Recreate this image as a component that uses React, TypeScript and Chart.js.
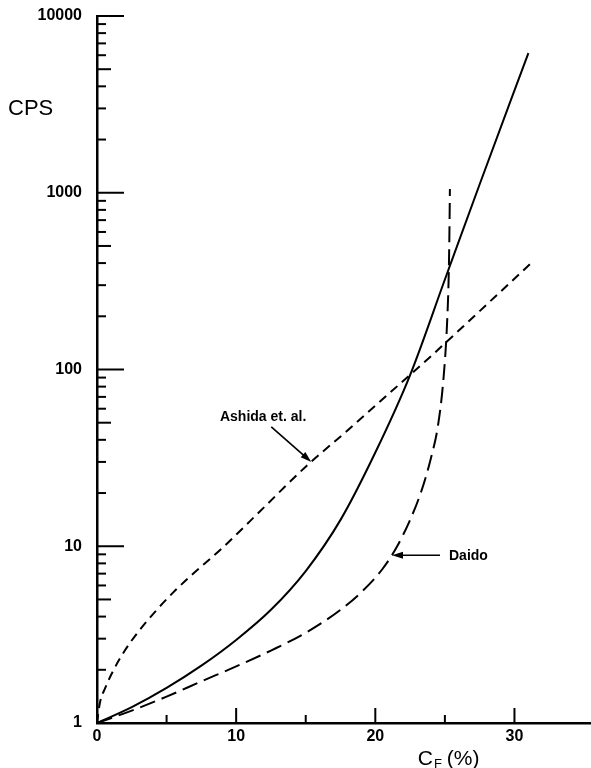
import React, { useEffect, useRef } from "react";
import { Chart, registerables } from "chart.js";

Chart.register(...registerables);

// ---- data ----
const solidX = [0, 2.5, 5, 7.5, 10, 12.5, 15, 17.5, 20, 22.5, 25, 27.5, 31];
const solidY = [1, 1.23, 1.58, 2.11, 2.95, 4.37, 7.24, 14.1, 33.9, 93, 323, 1117, 6170];

const ashidaX = [0, 0.2, 0.6, 1.2, 2, 3, 4.3, 5.5, 6.7, 9, 12, 15, 18, 21, 24, 27.5, 31.3];
const ashidaY = [1, 1.29, 1.585, 2.0, 2.57, 3.31, 4.37, 5.5, 6.76, 9.77, 16.6, 28.2, 45.2, 73.3, 119, 214, 407];

const daidoX = [0, 2.5, 5, 7.5, 10, 12.5, 15, 17.5, 19, 20.5, 21.5, 22.5, 23.3, 24, 24.5, 24.9, 25.15, 25.28, 25.33, 25.36];
const daidoY = [1, 1.175, 1.41, 1.72, 2.09, 2.57, 3.24, 4.37, 5.5, 7.41, 9.77, 14.1, 20.4, 31.6, 47.9, 89, 178, 355, 631, 1050];

const yTickValues = [1, 10, 100, 1000, 10000];
const yMinorMultipliers = [2, 3, 4, 5, 6, 7, 8, 9];
const xTickValues = [0, 10, 20, 30];
const xMajorTicks = [10, 20, 30];
const xMinorTicks = [5, 15, 25];

const yAxisLabel = "CPS";
const xAxisMain = "C";
const xAxisSub = "F";
const xAxisRest = "(%)";
const ashidaLabel = "Ashida et. al.";
const daidoLabel = "Daido";
// annotation anchor points (data coordinates on the curves)
const ashidaAnchor = { x: 15.4, y: 30 };
const daidoAnchor = { x: 21.2, y: 8.9 };

const FONT = "'Liberation Sans', Arial, Helvetica, sans-serif";

const toPoints = (xs: number[], ys: number[]) => xs.map((x, i) => ({ x, y: ys[i] }));

function arrow(ctx: CanvasRenderingContext2D, fx: number, fy: number, tx: number, ty: number) {
  const ang = Math.atan2(ty - fy, tx - fx);
  const hl = 11;
  const hw = 3.5;
  ctx.beginPath();
  ctx.moveTo(fx, fy);
  ctx.lineTo(tx - Math.cos(ang) * 4, ty - Math.sin(ang) * 4);
  ctx.stroke();
  ctx.beginPath();
  ctx.moveTo(tx, ty);
  ctx.lineTo(tx - Math.cos(ang) * hl - Math.sin(ang) * hw, ty - Math.sin(ang) * hl + Math.cos(ang) * hw);
  ctx.lineTo(tx - Math.cos(ang) * hl + Math.sin(ang) * hw, ty - Math.sin(ang) * hl - Math.cos(ang) * hw);
  ctx.closePath();
  ctx.fill();
}

const decorPlugin = {
  id: "decor",
  afterDraw(chart: any) {
    const ctx: CanvasRenderingContext2D = chart.ctx;
    const xs = chart.scales.x;
    const ys = chart.scales.y;
    const ax = xs.getPixelForValue(0);
    const ay = ys.getPixelForValue(1);
    ctx.save();
    ctx.strokeStyle = "#000";
    ctx.fillStyle = "#000";
    ctx.lineWidth = 2;
    ctx.lineCap = "butt";
    const seg = (x1: number, y1: number, x2: number, y2: number) => {
      ctx.beginPath();
      ctx.moveTo(x1, y1);
      ctx.lineTo(x2, y2);
      ctx.stroke();
    };
    // y ticks (inward)
    yTickValues.forEach((dec, i) => {
      const py = ys.getPixelForValue(dec);
      seg(ax, py, ax + 27, py);
      if (i < yTickValues.length - 1) {
        yMinorMultipliers.forEach((m) => {
          const p = ys.getPixelForValue(m * dec);
          seg(ax, p, ax + (m === 5 ? 14 : 9), p);
        });
      }
    });
    // x ticks (inward)
    xMajorTicks.forEach((v) => {
      const px = xs.getPixelForValue(v);
      seg(px, ay, px, ay - 15);
    });
    xMinorTicks.forEach((v) => {
      const px = xs.getPixelForValue(v);
      seg(px, ay, px, ay - 8);
    });

    // axis titles
    ctx.textBaseline = "alphabetic";
    ctx.textAlign = "left";
    ctx.font = `22px ${FONT}`;
    ctx.fillText(yAxisLabel, 8, 115);

    const cx = xs.getPixelForValue(23.05);
    ctx.font = `21px ${FONT}`;
    ctx.fillText(xAxisMain, cx, 765);
    const cw = ctx.measureText(xAxisMain).width;
    ctx.font = `13px ${FONT}`;
    ctx.fillText(xAxisSub, cx + cw + 1, 768);
    const fw = ctx.measureText(xAxisSub).width;
    ctx.font = `21px ${FONT}`;
    ctx.fillText(xAxisRest, cx + cw + fw + 6, 765);

    // annotations
    ctx.lineWidth = 1.6;
    const at = { x: xs.getPixelForValue(ashidaAnchor.x), y: ys.getPixelForValue(ashidaAnchor.y) };
    arrow(ctx, at.x - 40, at.y - 35, at.x, at.y);
    ctx.font = `bold 14px ${FONT}`;
    ctx.textAlign = "right";
    ctx.textBaseline = "middle";
    ctx.fillText(ashidaLabel, at.x - 5, at.y - 45);

    const dt = { x: xs.getPixelForValue(daidoAnchor.x), y: ys.getPixelForValue(daidoAnchor.y) };
    arrow(ctx, dt.x + 48, dt.y, dt.x, dt.y);
    ctx.textAlign = "left";
    ctx.fillText(daidoLabel, dt.x + 57, dt.y + 1);
    ctx.restore();
  },
};

export default function App() {
  const ref = useRef<HTMLCanvasElement | null>(null);
  useEffect(() => {
    if (!ref.current) return;
    const chart = new Chart(ref.current, {
      type: "line",
      data: {
        datasets: [
          {
            label: "solid",
            data: toPoints(solidX, solidY),
            borderColor: "#000",
            borderWidth: 2,
            pointRadius: 0,
            cubicInterpolationMode: "monotone",
            fill: false,
          },
          {
            label: ashidaLabel,
            data: toPoints(ashidaX, ashidaY),
            borderColor: "#000",
            borderWidth: 2,
            borderDash: [9, 6],
            pointRadius: 0,
            cubicInterpolationMode: "monotone",
            fill: false,
          },
          {
            label: daidoLabel,
            data: toPoints(daidoX, daidoY),
            borderColor: "#000",
            borderWidth: 2,
            borderDash: [16, 7],
            pointRadius: 0,
            cubicInterpolationMode: "monotone",
            fill: false,
          },
        ],
      },
      options: {
        responsive: false,
        animation: false,
        layout: { padding: { top: 16, right: 0, left: 0, bottom: 0 } },
        plugins: { legend: { display: false }, tooltip: { enabled: false } },
        scales: {
          x: {
            type: "linear",
            min: 0,
            max: 35.5,
            grid: { display: false, drawTicks: false },
            border: { display: true, color: "#000", width: 2.5 },
            afterBuildTicks: (s: any) => {
              s.ticks = xTickValues.map((v) => ({ value: v }));
            },
            afterFit: (s: any) => {
              s.height = 45;
              s.paddingLeft = 0;
              s.paddingRight = 0;
            },
            ticks: {
              autoSkip: false,
              maxRotation: 0,
              padding: 4,
              color: "#000",
              font: { family: FONT, size: 16, weight: "bold" },
              callback: (v: any) => String(v),
            },
          },
          y: {
            type: "logarithmic",
            min: 1,
            max: 10000,
            grid: { display: false, drawTicks: false },
            border: { display: true, color: "#000", width: 2.5 },
            afterBuildTicks: (s: any) => {
              s.ticks = yTickValues.map((v) => ({ value: v, major: true }));
            },
            afterFit: (s: any) => {
              s.width = 97;
              s.paddingTop = 0;
              s.paddingBottom = 0;
            },
            ticks: {
              autoSkip: false,
              padding: 15,
              color: "#000",
              font: { family: FONT, size: 16, weight: "bold" },
              callback: (v: any) => String(v),
            },
          },
        },
      },
      plugins: [decorPlugin],
    });
    return () => chart.destroy();
  }, []);
  return (
    <div style={{ position: "fixed", left: 0, top: 0, width: 591, height: 768, background: "#fff" }}>
      <canvas ref={ref} width={591} height={768} />
    </div>
  );
}
